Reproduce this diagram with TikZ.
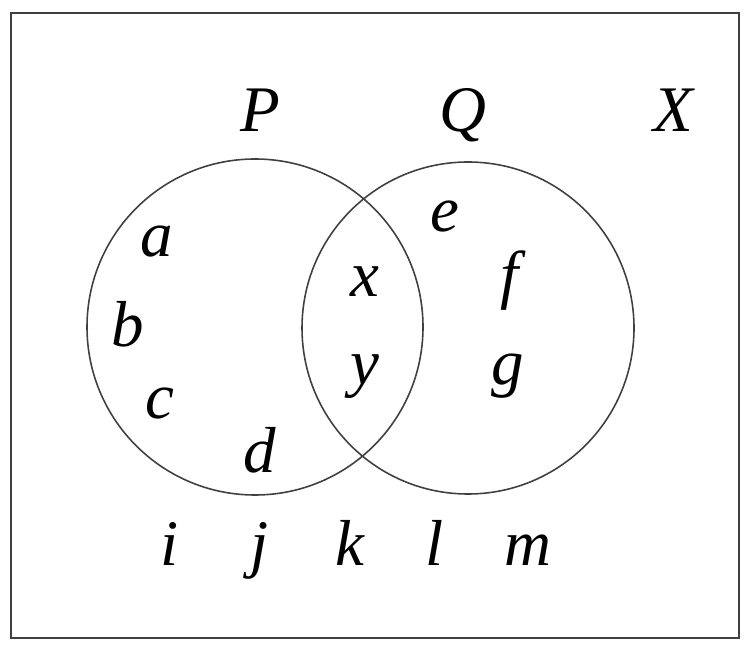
\documentclass[tikz,border=0pt]{standalone}
\usepackage{fontspec}
\setmainfont{Liberation Serif}
\begin{document}
\begin{tikzpicture}[x=0.02cm,y=0.02cm,font=\fontsize{37}{40}\selectfont\itshape]
    \tikzset{ring/.style={draw=black!75, line width=0.9pt}, lbl/.style={anchor=base, inner sep=0pt}}
    \useasboundingbox (0,0) rectangle (746,649);
    \draw[ring] (11,11) rectangle (739,636);
    \draw[ring] (255,322) circle[radius=168];
    \draw[ring] (468,321) circle[radius=166];
    \node[lbl] (P) at (260,517) {P};
    \node[lbl] (Q) at (463,517) {Q};
    \node[lbl] (X) at (673,517) {X};
    \node[lbl] (a) at (157,392) {a};
    \node[lbl] (b) at (128,302) {b};
    \node[lbl] (c) at (160,231) {c};
    \node[lbl] (d) at (260,177) {d};
    \node[lbl] (x) at (365,352) {x};
    \node[lbl] (y) at (365,264) {y};
    \node[lbl] (e) at (445,417) {e};
    \node[lbl] (f) at (510,352) {f};
    \node[lbl] (g) at (508,264) {g};
    \node[lbl] (i) at (170,84) {i};
    \node[lbl] (j) at (260,84) {j};
    \node[lbl] (k) at (350,84) {k};
    \node[lbl] (l) at (435,84) {l};
    \node[lbl] (m) at (528,84) {m};
\end{tikzpicture}
\end{document}
